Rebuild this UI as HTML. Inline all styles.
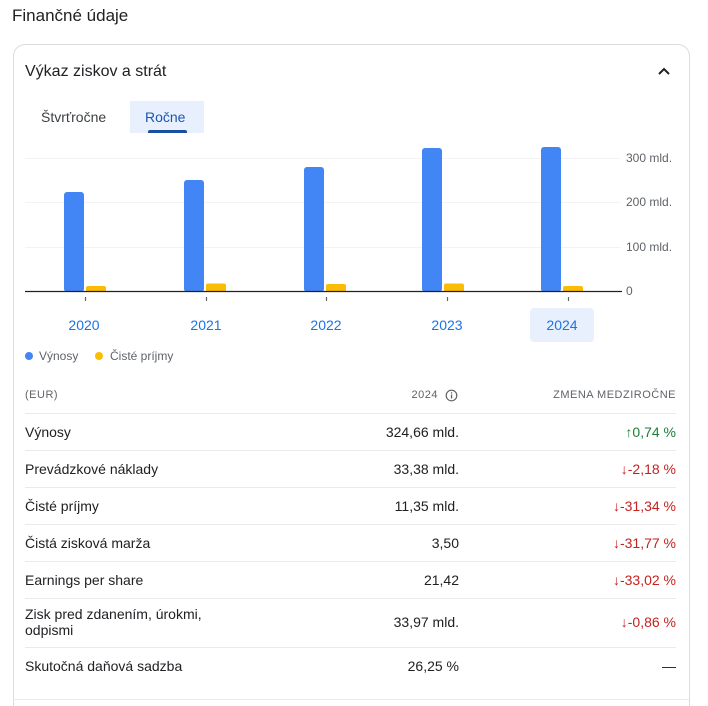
<!DOCTYPE html>
<html style="width:708px;height:706px;overflow:hidden"><head><meta charset="utf-8"><style>
body{margin:0;width:708px;height:706px;background:#fff;font-family:"Liberation Sans",Arial,sans-serif;color:#202124;position:relative;overflow:hidden}
.a{position:absolute;white-space:nowrap}
.card{position:absolute;left:13px;top:44px;width:675px;height:680px;border:1px solid #dadce0;border-bottom:none;border-radius:12px 12px 0 0}
.hl{position:absolute;left:25px;width:651px;height:1px;background:#e8eaed}
.lab{left:25px;font-size:14px;line-height:16px}
.val{right:249px;font-size:14px;text-align:right}
.chg{right:32px;font-size:14px;color:#c5221f;text-align:right}
.yl{left:626px;font-size:12px;color:#5f6368}
.yr{font-size:14px;color:#1a73e8;width:64px;text-align:center}
</style></head><body>
<div class="a" style="left:12px;top:6px;font-size:17px">Finančné údaje</div>
<div class="card"></div>
<div class="a" style="left:25px;top:63px;font-size:16px">Výkaz ziskov a strát</div>
<svg class="a" style="left:657px;top:66px" width="14" height="10"><path d="M2 8 L7 3 L12 8" stroke="#202124" stroke-width="2" fill="none"/></svg>
<div class="a" style="left:41px;top:109px;font-size:14px;color:#3c4043">Štvrťročne</div>
<div class="a" style="left:130px;top:101px;width:74px;height:32px;background:#e8f0fe"></div>
<div class="a" style="left:145px;top:109px;font-size:14px;color:#1a56b0">Ročne</div>
<div class="a" style="left:148px;top:130px;width:39px;height:3px;background:#1a4fa0;border-radius:2px 2px 0 0"></div>
<svg class="a" style="left:0;top:0" width="708" height="310">
<g stroke="#f1f3f4" stroke-width="1"><line x1="25" y1="158.5" x2="620" y2="158.5"/><line x1="25" y1="202.5" x2="620" y2="202.5"/><line x1="25" y1="247.5" x2="620" y2="247.5"/></g>
<g fill="#4285f4">
<rect x="64" y="192" width="20" height="100" rx="3"/>
<rect x="184" y="180" width="20" height="112" rx="3"/>
<rect x="304" y="167" width="20" height="125" rx="3"/>
<rect x="422" y="148" width="20" height="144" rx="3"/>
<rect x="541" y="147" width="20" height="145" rx="3"/>
</g>
<g fill="#fbbc04">
<rect x="86" y="286" width="20" height="6" rx="2"/>
<rect x="206" y="283.5" width="20" height="8.5" rx="2"/>
<rect x="326" y="284" width="20" height="8" rx="2"/>
<rect x="444" y="283.5" width="20" height="8.5" rx="2"/>
<rect x="563" y="286" width="20" height="6" rx="2"/>
</g>
<line x1="25" y1="291.5" x2="622" y2="291.5" stroke="#202124" stroke-width="1.2"/>
<g stroke="#5f6368" stroke-width="1.2"><line x1="85.5" y1="297" x2="85.5" y2="301"/><line x1="206.5" y1="297" x2="206.5" y2="301"/><line x1="326.5" y1="297" x2="326.5" y2="301"/><line x1="447.5" y1="297" x2="447.5" y2="301"/><line x1="568.5" y1="297" x2="568.5" y2="301"/></g>
</svg>
<div class="a yl" style="top:151px">300 mld.</div>
<div class="a yl" style="top:195px">200 mld.</div>
<div class="a yl" style="top:240px">100 mld.</div>
<div class="a yl" style="top:284px">0</div>
<div class="a" style="left:530px;top:308px;width:64px;height:34px;background:#e8f0fe;border-radius:4px"></div>
<div class="a yr" style="left:52px;top:317px">2020</div>
<div class="a yr" style="left:174px;top:317px">2021</div>
<div class="a yr" style="left:294px;top:317px">2022</div>
<div class="a yr" style="left:415px;top:317px">2023</div>
<div class="a yr" style="left:530px;top:317px">2024</div>
<div class="a" style="left:25px;top:352px;width:8px;height:8px;border-radius:50%;background:#4285f4"></div>
<div class="a" style="left:39px;top:349px;font-size:12px;color:#5f6368">Výnosy</div>
<div class="a" style="left:95px;top:352px;width:8px;height:8px;border-radius:50%;background:#fbbc04"></div>
<div class="a" style="left:110px;top:349px;font-size:12px;color:#5f6368">Čisté príjmy</div>
<div class="a" style="left:25px;top:389px;font-size:11px;color:#5f6368;letter-spacing:.5px">(EUR)</div>
<div class="a" style="right:270px;top:389px;font-size:11px;color:#5f6368;letter-spacing:.5px">2024</div>
<svg class="a" style="left:445px;top:389px" width="13" height="13"><circle cx="6.5" cy="6.5" r="5.3" fill="none" stroke="#5f6368" stroke-width="1.2"/><rect x="5.9" y="5.5" width="1.3" height="4" fill="#5f6368"/><rect x="5.9" y="3.3" width="1.3" height="1.3" fill="#5f6368"/></svg>
<div class="a" style="right:32px;top:389px;font-size:11px;color:#5f6368;letter-spacing:.5px">ZMENA MEDZIROČNE</div>
<div class="hl" style="top:413px"></div><div class="hl" style="top:450px"></div><div class="hl" style="top:487px"></div><div class="hl" style="top:524px"></div><div class="hl" style="top:561px"></div><div class="hl" style="top:598px"></div><div class="hl" style="top:647px"></div>
<div class="a" style="left:13px;top:699px;width:676px;height:1px;background:#e8eaed"></div>
<div class="a lab" style="top:424px">Výnosy</div><div class="a val" style="top:424px">324,66 mld.</div><div class="a chg" style="top:424px;color:#188038">↑0,74 %</div>
<div class="a lab" style="top:461px">Prevádzkové náklady</div><div class="a val" style="top:461px">33,38 mld.</div><div class="a chg" style="top:461px">↓-2,18 %</div>
<div class="a lab" style="top:498px">Čisté príjmy</div><div class="a val" style="top:498px">11,35 mld.</div><div class="a chg" style="top:498px">↓-31,34 %</div>
<div class="a lab" style="top:535px">Čistá zisková marža</div><div class="a val" style="top:535px">3,50</div><div class="a chg" style="top:535px">↓-31,77 %</div>
<div class="a lab" style="top:572px">Earnings per share</div><div class="a val" style="top:572px">21,42</div><div class="a chg" style="top:572px">↓-33,02 %</div>
<div class="a lab" style="top:606px;line-height:16px">Zisk pred zdanením, úrokmi,<br>odpismi</div><div class="a val" style="top:614px">33,97 mld.</div><div class="a chg" style="top:614px">↓-0,86 %</div>
<div class="a lab" style="top:658px">Skutočná daňová sadzba</div><div class="a val" style="top:658px">26,25 %</div><div class="a chg" style="top:658px;color:#202124">—</div>
</body></html>
